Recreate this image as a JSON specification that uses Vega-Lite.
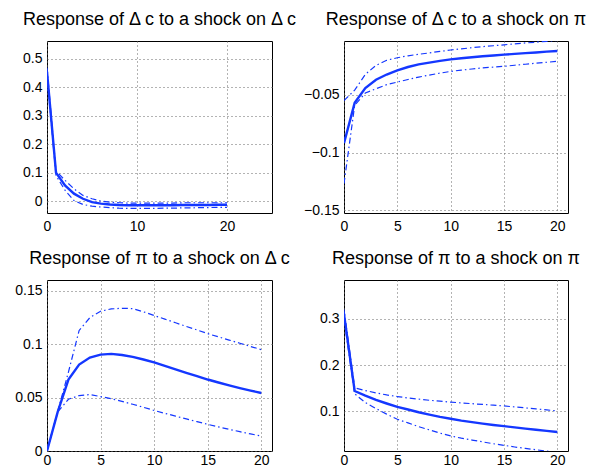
{
  "$schema": "https://vega.github.io/schema/vega-lite/v6.json",
  "padding": {"left": 14, "top": 10, "right": 0, "bottom": 0},
  "background": "white",
  "columns": 2,
  "bounds": "flush",
  "spacing": {"row": 67, "column": 72},
  "config": {
    "font": "Liberation Sans",
    "view": {"stroke": "black", "strokeWidth": 1},
    "title": {"font": "Liberation Sans", "fontSize": 18, "fontWeight": "normal", "color": "black", "anchor": "middle", "frame": "group", "offset": 12},
    "axis": {"labelFont": "Liberation Sans", "labelFontSize": 14, "labelColor": "black", "grid": true, "gridColor": "#666666", "gridDash": [1, 3], "gridWidth": 1, "domain": false, "ticks": false, "labelFlush": false, "labelOverlap": false, "title": null, "format": "~g", "tickCount": 40},
    "axisX": {"labelPadding": 6},
    "axisY": {"labelPadding": 5}
  },
  "datasets": {
    "irf": [
      {"p":"a","t":0,"irf":0.455,"hi":0.47,"lo":0.442},
      {"p":"a","t":1,"irf":0.1,"hi":0.106,"lo":0.09},
      {"p":"a","t":2,"irf":0.055,"hi":0.073,"lo":0.038},
      {"p":"a","t":3,"irf":0.026,"hi":0.043,"lo":0.002},
      {"p":"a","t":4,"irf":0.008,"hi":0.02,"lo":-0.012},
      {"p":"a","t":5,"irf":-0.004,"hi":0.008,"lo":-0.018},
      {"p":"a","t":6,"irf":-0.009,"hi":0.0,"lo":-0.021},
      {"p":"a","t":7,"irf":-0.012,"hi":-0.004,"lo":-0.023},
      {"p":"a","t":8,"irf":-0.014,"hi":-0.006,"lo":-0.025},
      {"p":"a","t":9,"irf":-0.015,"hi":-0.007,"lo":-0.026},
      {"p":"a","t":10,"irf":-0.015,"hi":-0.007,"lo":-0.026},
      {"p":"a","t":11,"irf":-0.015,"hi":-0.007,"lo":-0.026},
      {"p":"a","t":12,"irf":-0.015,"hi":-0.007,"lo":-0.026},
      {"p":"a","t":13,"irf":-0.015,"hi":-0.007,"lo":-0.025},
      {"p":"a","t":14,"irf":-0.015,"hi":-0.007,"lo":-0.025},
      {"p":"a","t":15,"irf":-0.014,"hi":-0.006,"lo":-0.024},
      {"p":"a","t":16,"irf":-0.014,"hi":-0.006,"lo":-0.024},
      {"p":"a","t":17,"irf":-0.014,"hi":-0.006,"lo":-0.023},
      {"p":"a","t":18,"irf":-0.014,"hi":-0.006,"lo":-0.023},
      {"p":"a","t":19,"irf":-0.013,"hi":-0.006,"lo":-0.022},
      {"p":"a","t":20,"irf":-0.013,"hi":-0.006,"lo":-0.022},
      {"p":"b","t":0,"irf":-0.092,"hi":-0.055,"lo":-0.127},
      {"p":"b","t":1,"irf":-0.057,"hi":-0.046,"lo":-0.0592},
      {"p":"b","t":2,"irf":-0.0443,"hi":-0.0324,"lo":-0.0485},
      {"p":"b","t":3,"irf":-0.037,"hi":-0.0246,"lo":-0.0448},
      {"p":"b","t":4,"irf":-0.0325,"hi":-0.0202,"lo":-0.0413},
      {"p":"b","t":5,"irf":-0.029,"hi":-0.018,"lo":-0.039},
      {"p":"b","t":6,"irf":-0.026,"hi":-0.0163,"lo":-0.0368},
      {"p":"b","t":7,"irf":-0.0237,"hi":-0.015,"lo":-0.0347},
      {"p":"b","t":8,"irf":-0.0222,"hi":-0.0138,"lo":-0.033},
      {"p":"b","t":9,"irf":-0.0207,"hi":-0.0125,"lo":-0.0313},
      {"p":"b","t":10,"irf":-0.0194,"hi":-0.0113,"lo":-0.0298},
      {"p":"b","t":11,"irf":-0.0184,"hi":-0.0103,"lo":-0.0287},
      {"p":"b","t":12,"irf":-0.0175,"hi":-0.0093,"lo":-0.0277},
      {"p":"b","t":13,"irf":-0.0167,"hi":-0.0084,"lo":-0.0268},
      {"p":"b","t":14,"irf":-0.016,"hi":-0.0076,"lo":-0.0261},
      {"p":"b","t":15,"irf":-0.0153,"hi":-0.0068,"lo":-0.0254},
      {"p":"b","t":16,"irf":-0.0146,"hi":-0.006,"lo":-0.0245},
      {"p":"b","t":17,"irf":-0.014,"hi":-0.0052,"lo":-0.0236},
      {"p":"b","t":18,"irf":-0.0134,"hi":-0.0045,"lo":-0.0227},
      {"p":"b","t":19,"irf":-0.0127,"hi":-0.0038,"lo":-0.0219},
      {"p":"b","t":20,"irf":-0.0121,"hi":-0.003,"lo":-0.0211},
      {"p":"c","t":0,"irf":0,"hi":0,"lo":0},
      {"p":"c","t":1,"irf":0.0366,"hi":0.037,"lo":0.0366},
      {"p":"c","t":2,"irf":0.067,"hi":0.074,"lo":0.0485},
      {"p":"c","t":3,"irf":0.081,"hi":0.113,"lo":0.052},
      {"p":"c","t":4,"irf":0.0876,"hi":0.125,"lo":0.0529},
      {"p":"c","t":5,"irf":0.0904,"hi":0.131,"lo":0.051},
      {"p":"c","t":6,"irf":0.091,"hi":0.1332,"lo":0.049},
      {"p":"c","t":7,"irf":0.09,"hi":0.1338,"lo":0.0465},
      {"p":"c","t":8,"irf":0.0882,"hi":0.1335,"lo":0.0438},
      {"p":"c","t":9,"irf":0.0858,"hi":0.1305,"lo":0.041},
      {"p":"c","t":10,"irf":0.083,"hi":0.127,"lo":0.038},
      {"p":"c","t":11,"irf":0.0798,"hi":0.1236,"lo":0.0353},
      {"p":"c","t":12,"irf":0.0766,"hi":0.1202,"lo":0.0327},
      {"p":"c","t":13,"irf":0.0733,"hi":0.1168,"lo":0.0301},
      {"p":"c","t":14,"irf":0.0701,"hi":0.1135,"lo":0.0275},
      {"p":"c","t":15,"irf":0.067,"hi":0.11,"lo":0.025},
      {"p":"c","t":16,"irf":0.0642,"hi":0.107,"lo":0.0226},
      {"p":"c","t":17,"irf":0.0615,"hi":0.104,"lo":0.0203},
      {"p":"c","t":18,"irf":0.059,"hi":0.101,"lo":0.0181},
      {"p":"c","t":19,"irf":0.0566,"hi":0.098,"lo":0.016},
      {"p":"c","t":20,"irf":0.0544,"hi":0.095,"lo":0.014},
      {"p":"d","t":0,"irf":0.31,"hi":0.32,"lo":0.3},
      {"p":"d","t":1,"irf":0.144,"hi":0.151,"lo":0.138},
      {"p":"d","t":2,"irf":0.134,"hi":0.145,"lo":0.119},
      {"p":"d","t":3,"irf":0.125,"hi":0.14,"lo":0.106},
      {"p":"d","t":4,"irf":0.117,"hi":0.1355,"lo":0.094},
      {"p":"d","t":5,"irf":0.1095,"hi":0.132,"lo":0.083},
      {"p":"d","t":6,"irf":0.104,"hi":0.129,"lo":0.075},
      {"p":"d","t":7,"irf":0.098,"hi":0.1265,"lo":0.067},
      {"p":"d","t":8,"irf":0.093,"hi":0.124,"lo":0.06},
      {"p":"d","t":9,"irf":0.088,"hi":0.122,"lo":0.053},
      {"p":"d","t":10,"irf":0.084,"hi":0.12,"lo":0.047},
      {"p":"d","t":11,"irf":0.08,"hi":0.1183,"lo":0.042},
      {"p":"d","t":12,"irf":0.0766,"hi":0.1166,"lo":0.038},
      {"p":"d","t":13,"irf":0.0734,"hi":0.115,"lo":0.034},
      {"p":"d","t":14,"irf":0.0705,"hi":0.1133,"lo":0.03},
      {"p":"d","t":15,"irf":0.068,"hi":0.1117,"lo":0.0265},
      {"p":"d","t":16,"irf":0.0653,"hi":0.1096,"lo":0.023},
      {"p":"d","t":17,"irf":0.0627,"hi":0.1075,"lo":0.02},
      {"p":"d","t":18,"irf":0.0602,"hi":0.1053,"lo":0.017},
      {"p":"d","t":19,"irf":0.0578,"hi":0.1031,"lo":0.014},
      {"p":"d","t":20,"irf":0.0554,"hi":0.101,"lo":0.011}
    ]
  },
  "data": {"name": "irf"},
  "concat": [
    {
      "title": "Response of Δ c to a shock on Δ c",
      "width": 225, "height": 172,
      "transform": [{"filter": "datum.p == 'a'"}],
      "layer": [
        {"mark": {"type": "line", "color": "#1437ff", "strokeWidth": 1.2, "strokeDash": [6, 3, 1.5, 3], "clip": true},
         "encoding": {"x": {"field": "t", "type": "quantitative", "scale": {"domain": [0, 25], "nice": false, "zero": false}, "axis": {"values": [0, 10, 20]}},
                      "y": {"field": "hi", "type": "quantitative", "scale": {"domain": [-0.042, 0.563], "nice": false, "zero": false}, "axis": {"values": [0, 0.1, 0.2, 0.3, 0.4, 0.5]}}}},
        {"mark": {"type": "line", "color": "#1437ff", "strokeWidth": 1.2, "strokeDash": [6, 3, 1.5, 3], "clip": true},
         "encoding": {"x": {"field": "t", "type": "quantitative"}, "y": {"field": "lo", "type": "quantitative"}}},
        {"mark": {"type": "line", "color": "#1437ff", "strokeWidth": 2.4, "clip": true},
         "encoding": {"x": {"field": "t", "type": "quantitative"}, "y": {"field": "irf", "type": "quantitative"}}}
      ]
    },
    {
      "title": "Response of Δ c to a shock on π",
      "width": 224, "height": 172,
      "transform": [{"filter": "datum.p == 'b'"}],
      "layer": [
        {"mark": {"type": "line", "color": "#1437ff", "strokeWidth": 1.2, "strokeDash": [6, 3, 1.5, 3], "clip": true},
         "encoding": {"x": {"field": "t", "type": "quantitative", "scale": {"domain": [0, 21], "nice": false, "zero": false}, "axis": {"values": [0, 5, 10, 15, 20]}},
                      "y": {"field": "hi", "type": "quantitative", "scale": {"domain": [-0.1523, -0.0035], "nice": false, "zero": false}, "axis": {"values": [-0.15, -0.1, -0.05]}}}},
        {"mark": {"type": "line", "color": "#1437ff", "strokeWidth": 1.2, "strokeDash": [6, 3, 1.5, 3], "clip": true},
         "encoding": {"x": {"field": "t", "type": "quantitative"}, "y": {"field": "lo", "type": "quantitative"}}},
        {"mark": {"type": "line", "color": "#1437ff", "strokeWidth": 2.4, "clip": true},
         "encoding": {"x": {"field": "t", "type": "quantitative"}, "y": {"field": "irf", "type": "quantitative"}}}
      ]
    },
    {
      "title": "Response of π to a shock on Δ c",
      "width": 225, "height": 171,
      "transform": [{"filter": "datum.p == 'c'"}],
      "layer": [
        {"mark": {"type": "line", "color": "#1437ff", "strokeWidth": 1.2, "strokeDash": [6, 3, 1.5, 3], "clip": true},
         "encoding": {"x": {"field": "t", "type": "quantitative", "scale": {"domain": [0, 21], "nice": false, "zero": false}, "axis": {"values": [0, 5, 10, 15, 20], "labelPadding": 2}},
                      "y": {"field": "hi", "type": "quantitative", "scale": {"domain": [0, 0.1603], "nice": false, "zero": false}, "axis": {"values": [0, 0.05, 0.1, 0.15]}}}},
        {"mark": {"type": "line", "color": "#1437ff", "strokeWidth": 1.2, "strokeDash": [6, 3, 1.5, 3], "clip": true},
         "encoding": {"x": {"field": "t", "type": "quantitative"}, "y": {"field": "lo", "type": "quantitative"}}},
        {"mark": {"type": "line", "color": "#1437ff", "strokeWidth": 2.4, "clip": true},
         "encoding": {"x": {"field": "t", "type": "quantitative"}, "y": {"field": "irf", "type": "quantitative"}}}
      ]
    },
    {
      "title": "Response of π to a shock on π",
      "width": 224, "height": 171,
      "transform": [{"filter": "datum.p == 'd'"}],
      "layer": [
        {"mark": {"type": "line", "color": "#1437ff", "strokeWidth": 1.2, "strokeDash": [6, 3, 1.5, 3], "clip": true},
         "encoding": {"x": {"field": "t", "type": "quantitative", "scale": {"domain": [0, 21], "nice": false, "zero": false}, "axis": {"values": [0, 5, 10, 15, 20], "labelPadding": 2}},
                      "y": {"field": "hi", "type": "quantitative", "scale": {"domain": [0.0143, 0.384], "nice": false, "zero": false}, "axis": {"values": [0.1, 0.2, 0.3]}}}},
        {"mark": {"type": "line", "color": "#1437ff", "strokeWidth": 1.2, "strokeDash": [6, 3, 1.5, 3], "clip": true},
         "encoding": {"x": {"field": "t", "type": "quantitative"}, "y": {"field": "lo", "type": "quantitative"}}},
        {"mark": {"type": "line", "color": "#1437ff", "strokeWidth": 2.4, "clip": true},
         "encoding": {"x": {"field": "t", "type": "quantitative"}, "y": {"field": "irf", "type": "quantitative"}}}
      ]
    }
  ]
}
